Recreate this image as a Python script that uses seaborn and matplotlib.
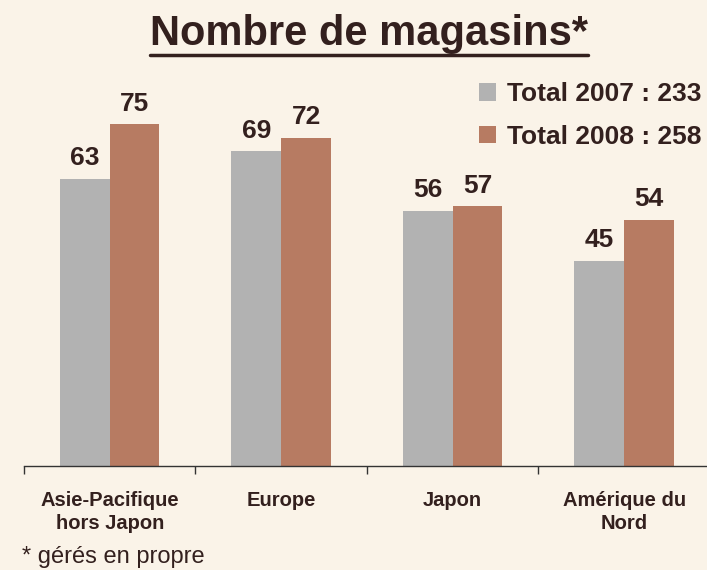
import pandas as pd
import matplotlib.pyplot as plt
import seaborn as sns
from matplotlib.lines import Line2D

# Data
regions = ['Asie-Pacifique\nhors Japon', 'Europe', 'Japon', 'Amérique du\nNord']
stores_2007 = [63, 69, 56, 45]
stores_2008 = [75, 72, 57, 54]

label_2007 = f'Total 2007 : {sum(stores_2007)}'
label_2008 = f'Total 2008 : {sum(stores_2008)}'

df = pd.DataFrame({
    'region': regions * 2,
    'stores': stores_2007 + stores_2008,
    'year': [label_2007] * 4 + [label_2008] * 4,
})

bg = '#FAF3E8'
ink = '#33201E'
palette = {label_2007: '#B2B2B2', label_2008: '#B77B62'}

sns.set_style('white')
plt.rcParams['font.family'] = ['Liberation Sans', 'DejaVu Sans']

fig = plt.figure(figsize=(7.07, 5.70), dpi=100, facecolor=bg)
ax = fig.add_axes([0.034, 0.1825, 0.97, 0.712])
ax.set_facecolor(bg)

sns.barplot(data=df, x='region', y='stores', hue='year', palette=palette,
            width=0.58, gap=0, saturation=1, linewidth=0, ax=ax)

for c in ax.containers:
    ax.bar_label(c, padding=6, fontsize=19, fontweight='bold', color=ink)

ax.set_ylim(0, 89)
ax.set_xlim(-0.5, 3.5)
ax.set_xlabel('')
ax.set_ylabel('')
ax.set_yticks([])
for s in ['top', 'left', 'right']:
    ax.spines[s].set_visible(False)
ax.spines['bottom'].set_color('#333333')
ax.spines['bottom'].set_linewidth(1.0)

# labels at centres, tick marks at category boundaries
ax.set_xticks(range(4))
ax.set_xticklabels(regions, fontsize=14.5, fontweight='bold', color=ink, linespacing=1.3)
ax.tick_params(axis='x', which='major', length=0, pad=18)
ax.set_xticks([-0.5, 0.5, 1.5, 2.5, 3.5], minor=True)
ax.tick_params(axis='x', which='minor', bottom=True, length=6, width=1,
               color='#333333', direction='out')

leg = ax.legend(loc='upper right', bbox_to_anchor=(1.007, 0.874), bbox_transform=fig.transFigure,
                frameon=False, prop={'size': 19, 'weight': 'bold'},
                handlelength=0.64, handleheight=0.64, handletextpad=0.4,
                labelspacing=0.7, borderaxespad=0)
for t in leg.get_texts():
    t.set_color(ink)

title = fig.text(0.522, 0.94, 'Nombre de magasins*', ha='center', va='center',
                 fontsize=30, fontweight='bold', color=ink)
fig.text(0.031, 0.012, '* gérés en propre', ha='left', va='baseline', fontsize=17, color=ink)

# underline the title
fig.canvas.draw()
bb = title.get_window_extent().transformed(fig.transFigure.inverted())
uy = bb.y0 - 0.001
fig.add_artist(Line2D([bb.x0, bb.x1], [uy, uy], color=ink, linewidth=2.5,
                      transform=fig.transFigure))

fig.savefig('out.png', dpi=100, facecolor=bg)
